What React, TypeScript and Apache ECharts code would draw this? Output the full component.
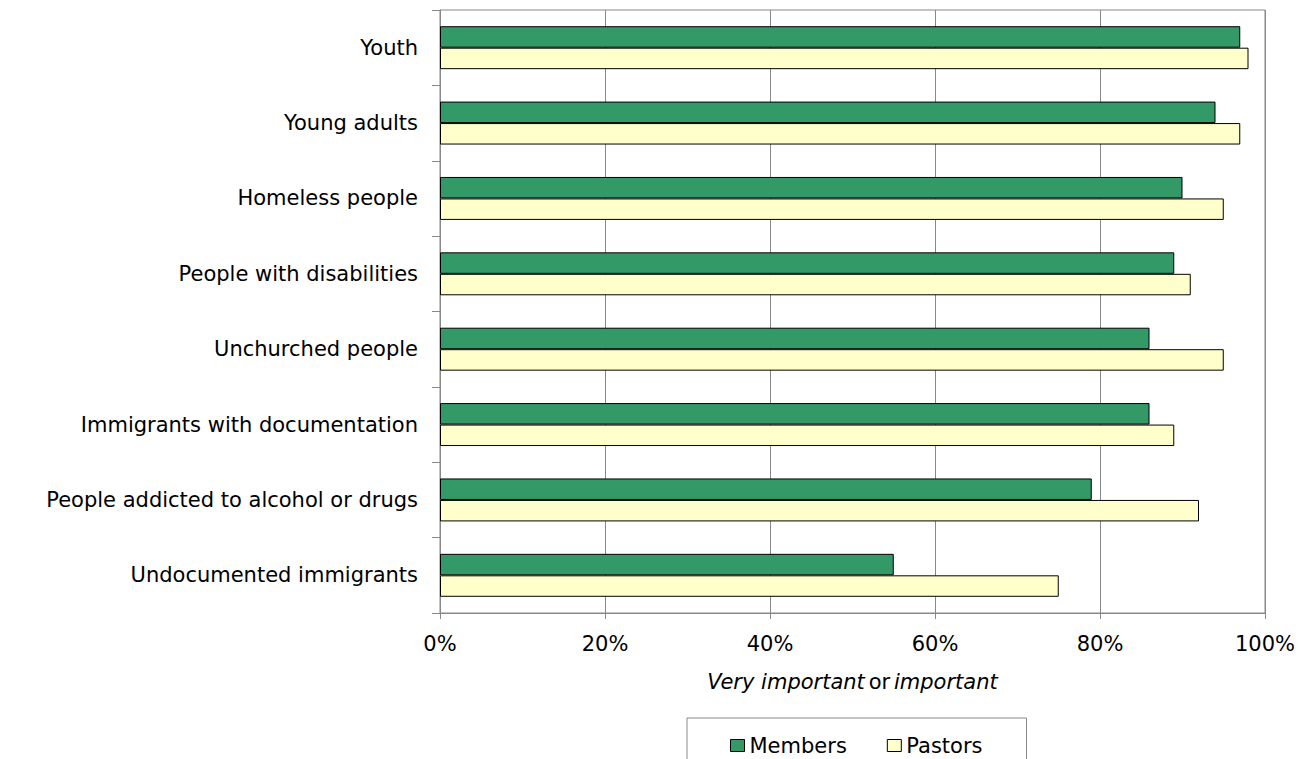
import React, { useEffect, useRef } from "react";
import * as echarts from "echarts";

const categories = [
  "Youth",
  "Young adults",
  "Homeless people",
  "People with disabilities",
  "Unchurched people",
  "Immigrants with documentation",
  "People addicted to alcohol or drugs",
  "Undocumented immigrants",
];
const members = [97, 94, 90, 89, 86, 86, 79, 55];
const pastors = [98, 97, 95, 91, 95, 89, 92, 75];
const xTicks = [0, 20, 40, 60, 80, 100];

const FONT = "'DejaVu Sans', sans-serif";
const FS = 21;

export default function App() {
  const ref = useRef<HTMLDivElement>(null);
  useEffect(() => {
    if (!ref.current) return;
    const chart = echarts.init(ref.current, undefined, { renderer: "svg" });
    chart.setOption({
      animation: false,
      textStyle: { fontFamily: FONT },
      grid: {
        left: 440,
        right: 47,
        top: 10,
        bottom: 146,
        show: true,
        borderColor: "#888",
        borderWidth: 1,
        backgroundColor: "transparent",
      },
      legend: {
        left: 687,
        top: 718,
        padding: [17, 44, 20, 43],
        itemGap: 40,
        itemWidth: 14,
        itemHeight: 12,
        icon: "rect",
        borderColor: "#888",
        borderWidth: 1,
        textStyle: { fontSize: FS, color: "#000", fontFamily: FONT },
        itemStyle: { borderColor: "#000", borderWidth: 1 },
        data: ["Members", "Pastors"],
      },
      xAxis: {
        type: "value",
        min: xTicks[0],
        max: xTicks[xTicks.length - 1],
        interval: 20,
        axisLine: { show: true, lineStyle: { color: "#888", width: 1 } },
        axisTick: { show: true, length: 6, lineStyle: { color: "#888" } },
        splitLine: { show: true, lineStyle: { color: "#888", width: 1 } },
        axisLabel: {
          formatter: (v: number) => v + "%",
          fontSize: FS,
          color: "#000",
          margin: 20,
          fontFamily: FONT,
        },
        name: "{i|Very important} {n|or} {i|important}",
        nameLocation: "middle",
        nameGap: 58,
        nameTextStyle: {
          rich: {
            i: { fontStyle: "italic", fontSize: FS, color: "#000", fontFamily: FONT },
            n: { fontStyle: "normal", fontSize: FS, color: "#000", fontFamily: FONT },
          },
        },
      },
      yAxis: {
        type: "category",
        data: categories,
        inverse: true,
        axisLine: { show: true, lineStyle: { color: "#888", width: 1 } },
        axisTick: { show: true, length: 8, lineStyle: { color: "#888" } },
        axisLabel: { fontSize: FS, color: "#000", margin: 22, fontFamily: FONT },
        splitLine: { show: false },
      },
      series: [
        {
          name: "Members",
          type: "bar",
          data: members,
          barGap: "0%",
          barCategoryGap: "43%",
          itemStyle: { color: "#339966", borderColor: "#000", borderWidth: 1 },
        },
        {
          name: "Pastors",
          type: "bar",
          data: pastors,
          barGap: "0%",
          barCategoryGap: "43%",
          itemStyle: { color: "#FFFFCC", borderColor: "#000", borderWidth: 1 },
        },
      ],
    });
    return () => chart.dispose();
  }, []);
  return <div ref={ref} style={{ width: 1312, height: 759, position: "absolute", left: 0, top: 0 }} />;
}
